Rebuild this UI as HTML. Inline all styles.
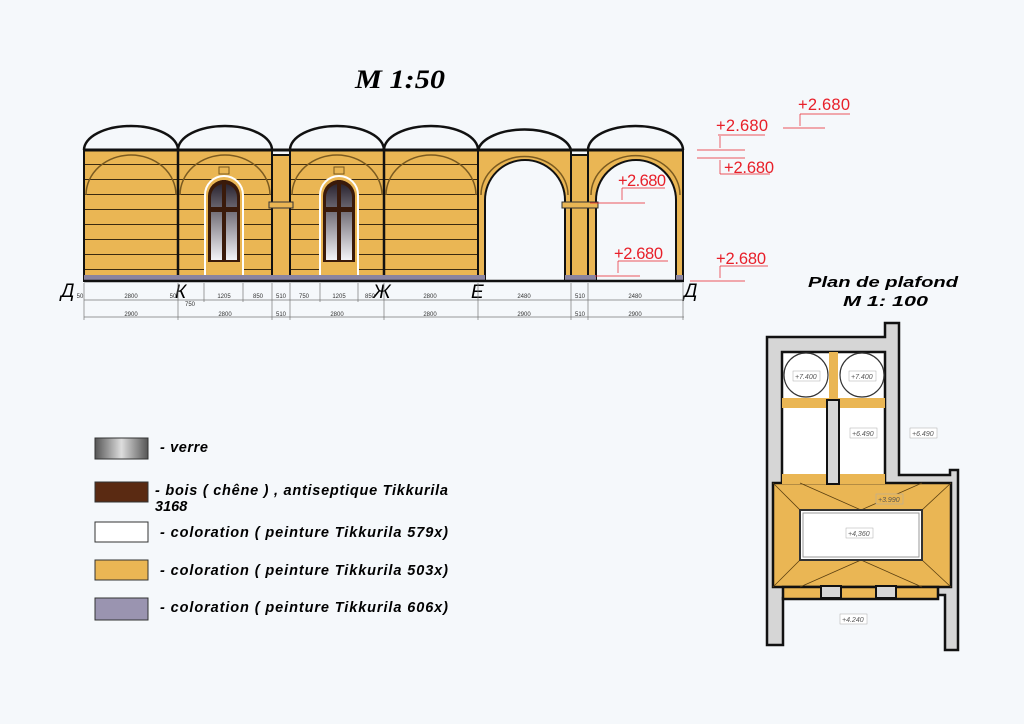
<!DOCTYPE html>
<html><head><meta charset="utf-8"><style>
body{margin:0;background:#f5f8fb;}
svg{display:block}
text{font-family:"Liberation Sans",sans-serif}
.t{font-family:"Liberation Serif",serif;font-style:italic;font-weight:bold}
.ax{font-family:"Liberation Serif",serif;font-style:italic;font-size:19px}
.lg{font-family:"Liberation Sans",sans-serif;font-style:italic;font-weight:bold;font-size:14.5px}
.r{fill:#e8202a;font-size:16.5px}
.d{font-size:6px;fill:#333}
</style></head><body>
<svg width="1024" height="724" viewBox="0 0 1024 724" xmlns="http://www.w3.org/2000/svg">
<defs>
<linearGradient id="gl" x1="0" y1="0" x2="0" y2="1"><stop offset="0" stop-color="#2a2430"/><stop offset="1" stop-color="#f4f4f8"/></linearGradient>
<linearGradient id="gl2" x1="0" y1="0" x2="1" y2="0"><stop offset="0" stop-color="#555"/><stop offset=".5" stop-color="#ddd"/><stop offset="1" stop-color="#555"/></linearGradient>
<pattern id="pl" width="94" height="15" patternUnits="userSpaceOnUse"><rect width="94" height="15" fill="#eab654"/><line x1="0" y1="14.5" x2="94" y2="14.5" stroke="#3b2a10" stroke-width="1"/></pattern>
</defs>
<text x="355" y="88" class="t" font-size="26" textLength="90" lengthAdjust="spacingAndGlyphs">M 1:50</text>

<g stroke="#111" stroke-width="2">
<rect x="84" y="150" width="188" height="131" fill="url(#pl)"/>
<rect x="290" y="150" width="188" height="131" fill="url(#pl)"/>
<rect x="272" y="155" width="18" height="126" fill="#eab654"/>
<rect x="571" y="155" width="17" height="126" fill="#eab654"/>
<path d="M478 150H571V281H565V200A40 40 0 0 0 485 200V281H478Z" fill="#eab654"/>
<path d="M588 150H683V281H676V200A40 40 0 0 0 596 200V281H588Z" fill="#eab654"/>
</g>
<rect x="85" y="151" width="92" height="13" fill="#eab654"/>
<rect x="179" y="151" width="92" height="13" fill="#eab654"/>
<rect x="291" y="151" width="92" height="13" fill="#eab654"/>
<rect x="385" y="151" width="92" height="13" fill="#eab654"/>
<line x1="178" y1="150" x2="178" y2="281" stroke="#111" stroke-width="2.5"/>
<line x1="384" y1="150" x2="384" y2="281" stroke="#111" stroke-width="2.5"/>
<line x1="84" y1="150" x2="683" y2="150" stroke="#111" stroke-width="3"/>
<g fill="none" stroke="#7a5a20" stroke-width="1.5">
<path d="M86 195A45 40 0 0 1 176 195"/><path d="M180 195A45 40 0 0 1 270 195"/>
<path d="M292 195A45 40 0 0 1 382 195"/><path d="M386 195A45 40 0 0 1 476 195"/>
<path d="M481 195A43 38 0 0 1 568 195"/><path d="M591 195A43 38 0 0 1 680 195"/>
</g>
<g fill="none" stroke="#111" stroke-width="2.5">
<path d="M84 150A47 24 0 0 1 178 150"/><path d="M178 150A47 24 0 0 1 272 150"/>
<path d="M290 150A47 24 0 0 1 384 150"/><path d="M384 150A47 24 0 0 1 478 150"/>
<path d="M478 150A47 24 0 0 1 571 150"/><path d="M588 150A47.5 24 0 0 1 683 150"/>
</g>
<g>
<path d="M205 276V195A19 19 0 0 1 243 195V276Z" fill="#eab654" stroke="#fff" stroke-width="2"/>
<path d="M208 262V196A16 16 0 0 1 240 196V262Z" fill="#3a1a0a"/>
<path d="M211 260V197A13 13 0 0 1 237 197V260Z" fill="url(#gl)"/>
<rect x="222" y="180" width="4" height="82" fill="#3a1a0a"/><rect x="208" y="207" width="32" height="5" fill="#3a1a0a"/>
<rect x="219" y="167" width="10" height="7" fill="#eab654" stroke="#7a5a20"/>
<path d="M320 276V195A19 19 0 0 1 358 195V276Z" fill="#eab654" stroke="#fff" stroke-width="2"/>
<path d="M323 262V196A16 16 0 0 1 355 196V262Z" fill="#3a1a0a"/>
<path d="M326 260V197A13 13 0 0 1 352 197V260Z" fill="url(#gl)"/>
<rect x="337" y="180" width="4" height="82" fill="#3a1a0a"/><rect x="323" y="207" width="32" height="5" fill="#3a1a0a"/>
<rect x="334" y="167" width="10" height="7" fill="#eab654" stroke="#7a5a20"/>
</g>
<rect x="269" y="202" width="24" height="6" fill="#eab654" stroke="#333"/>
<rect x="562" y="202" width="36" height="6" fill="#eab654" stroke="#333"/>
<rect x="84" y="275" width="394" height="5" fill="#8a84a0"/>
<rect x="478" y="275" width="7" height="5" fill="#8a84a0"/><rect x="565" y="275" width="31" height="5" fill="#8a84a0"/><rect x="676" y="275" width="7" height="5" fill="#8a84a0"/>
<line x1="84" y1="281" x2="684" y2="281" stroke="#111" stroke-width="2.5"/>
<g class="ax">
<text x="61" y="297">Д</text><text x="175" y="298">К</text><text x="373" y="298">Ж</text><text x="471" y="298">Е</text><text x="684" y="297">Д</text></g>
<g stroke="#777" stroke-width="0.7">
<line x1="84" y1="300" x2="684" y2="300"/><line x1="84" y1="317" x2="684" y2="317"/>
<line x1="84" y1="283" x2="84" y2="320"/><line x1="178" y1="283" x2="178" y2="320"/><line x1="272" y1="283" x2="272" y2="320"/><line x1="290" y1="283" x2="290" y2="320"/><line x1="384" y1="283" x2="384" y2="320"/><line x1="478" y1="283" x2="478" y2="320"/><line x1="571" y1="283" x2="571" y2="320"/><line x1="588" y1="283" x2="588" y2="320"/><line x1="683" y1="283" x2="683" y2="320"/><line x1="204" y1="283" x2="204" y2="302"/><line x1="243" y1="283" x2="243" y2="302"/><line x1="320" y1="283" x2="320" y2="302"/><line x1="358" y1="283" x2="358" y2="302"/>
</g>
<g class="d" text-anchor="middle">
<text x="131" y="298">2800</text><text x="224" y="298">1205</text><text x="258" y="298">850</text><text x="281" y="298">510</text><text x="304" y="298">750</text><text x="339" y="298">1205</text><text x="430" y="298">2800</text><text x="524" y="298">2480</text><text x="580" y="298">510</text><text x="635" y="298">2480</text>
<text x="131" y="316">2900</text><text x="225" y="316">2800</text><text x="281" y="316">510</text><text x="337" y="316">2800</text><text x="430" y="316">2800</text><text x="524" y="316">2900</text><text x="580" y="316">510</text><text x="635" y="316">2900</text>
<text x="190" y="306">750</text><text x="370" y="298">850</text><text x="173" y="298">50</text><text x="80" y="298">50</text></g>
<g class="r">
<text x="798" y="110" textLength="52">+2.680</text><text x="716" y="131" textLength="52">+2.680</text><text x="724" y="173" textLength="50">+2.680</text><text x="618" y="186" textLength="48">+2.680</text><text x="614" y="259" textLength="49">+2.680</text><text x="716" y="264" textLength="50">+2.680</text></g>
<g stroke="#e8202a" stroke-width="0.7" fill="none">
<line x1="783" y1="128" x2="825" y2="128"/><line x1="800" y1="114" x2="850" y2="114"/><line x1="800" y1="114" x2="800" y2="126"/>
<line x1="697" y1="150" x2="745" y2="150"/><line x1="718" y1="135" x2="765" y2="135"/><line x1="720" y1="136" x2="720" y2="148"/>
<line x1="697" y1="158" x2="745" y2="158"/><line x1="720" y1="160" x2="720" y2="174"/><line x1="720" y1="174" x2="770" y2="174"/>
<line x1="590" y1="203" x2="645" y2="203"/><line x1="622" y1="188" x2="665" y2="188"/><line x1="622" y1="188" x2="622" y2="200"/>
<line x1="595" y1="276" x2="640" y2="276"/><line x1="618" y1="261" x2="668" y2="261"/><line x1="618" y1="261" x2="618" y2="273"/>
<line x1="690" y1="281" x2="745" y2="281"/><line x1="720" y1="266" x2="768" y2="266"/><line x1="720" y1="266" x2="720" y2="278"/>
</g>
<text x="808" y="287" class="lg" font-size="17" textLength="150" lengthAdjust="spacingAndGlyphs">Plan de plafond</text>
<text x="843" y="306" class="lg" font-size="17" textLength="85" lengthAdjust="spacingAndGlyphs">M 1: 100</text>
<g stroke="#111" stroke-width="2.5" fill="#d6d6d6">
<path d="M767 337H885V323H899V475H950V470H958V650H945V595H937V587H790V598H783V645H767Z"/>
</g>
<g stroke="#111" stroke-width="2.5">
<rect x="782" y="352" width="103" height="131" fill="#fff"/>
<rect x="773" y="483" width="178" height="104" fill="#eab654"/>
<rect x="783" y="587" width="155" height="12" fill="#eab654"/>
</g>
<rect x="782" y="398" width="103" height="10" fill="#eab654"/>
<rect x="782" y="474" width="103" height="10" fill="#eab654"/>
<rect x="829" y="352" width="9" height="46" fill="#eab654"/>
<rect x="827" y="400" width="12" height="84" fill="#d6d6d6" stroke="#111" stroke-width="2"/>
<g fill="none" stroke="#333" stroke-width="1.2"><circle cx="806" cy="375" r="22"/><circle cx="862" cy="375" r="22"/></g>
<g stroke="#5a3f10" stroke-width="0.8"><line x1="773" y1="483" x2="800" y2="510"/><line x1="951" y1="483" x2="922" y2="510"/><line x1="773" y1="587" x2="800" y2="560"/><line x1="951" y1="587" x2="922" y2="560"/><line x1="800" y1="483" x2="861" y2="510"/><line x1="922" y1="483" x2="861" y2="510"/><line x1="800" y1="587" x2="861" y2="560"/><line x1="922" y1="587" x2="861" y2="560"/></g>
<rect x="800" y="510" width="122" height="50" fill="#fff" stroke="#333" stroke-width="2"/>
<rect x="803" y="513" width="116" height="44" fill="none" stroke="#999"/>
<rect x="821" y="586" width="20" height="12" fill="#d6d6d6" stroke="#111" stroke-width="2"/>
<rect x="876" y="586" width="20" height="12" fill="#d6d6d6" stroke="#111" stroke-width="2"/>
<g font-size="7" fill="#555" font-style="italic">
<rect x="793" y="371" width="27" height="10" fill="#fff" stroke="#aaa" stroke-width=".5"/><text x="795" y="379">+7.400</text>
<rect x="849" y="371" width="27" height="10" fill="#fff" stroke="#aaa" stroke-width=".5"/><text x="851" y="379">+7.400</text>
<rect x="850" y="428" width="27" height="10" fill="#fff" stroke="#aaa" stroke-width=".5"/><text x="852" y="436">+6.490</text>
<rect x="910" y="428" width="27" height="10" fill="#fff" stroke="#aaa" stroke-width=".5"/><text x="912" y="436">+6.490</text>
<rect x="876" y="494" width="27" height="10" fill="#eab654" stroke="#aaa" stroke-width=".5"/><text x="878" y="502">+3.990</text>
<rect x="846" y="528" width="27" height="10" fill="#fff" stroke="#aaa" stroke-width=".5"/><text x="848" y="536">+4,360</text>
<rect x="840" y="614" width="27" height="10" fill="#fff" stroke="#aaa" stroke-width=".5"/><text x="842" y="622">+4.240</text></g>
<rect x="95" y="438" width="53" height="21" fill="url(#gl2)" stroke="#333"/>
<rect x="95" y="482" width="53" height="20" fill="#5a2a12" stroke="#333"/>
<rect x="95" y="522" width="53" height="20" fill="#fff" stroke="#333"/>
<rect x="95" y="560" width="53" height="20" fill="#eab654" stroke="#333"/>
<rect x="95" y="598" width="53" height="22" fill="#9a94b0" stroke="#333"/>
<g class="lg">
<text x="160" y="452" textLength="48">- verre</text>
<text x="155" y="495" textLength="293">- bois ( chêne ) , antiseptique Tikkurila</text><text x="155" y="511">3168</text>
<text x="160" y="537" textLength="288">- coloration ( peinture Tikkurila 579x)</text>
<text x="160" y="575" textLength="288">- coloration ( peinture Tikkurila 503x)</text>
<text x="160" y="612" textLength="288">- coloration ( peinture Tikkurila 606x)</text></g>
</svg>
</body></html>
